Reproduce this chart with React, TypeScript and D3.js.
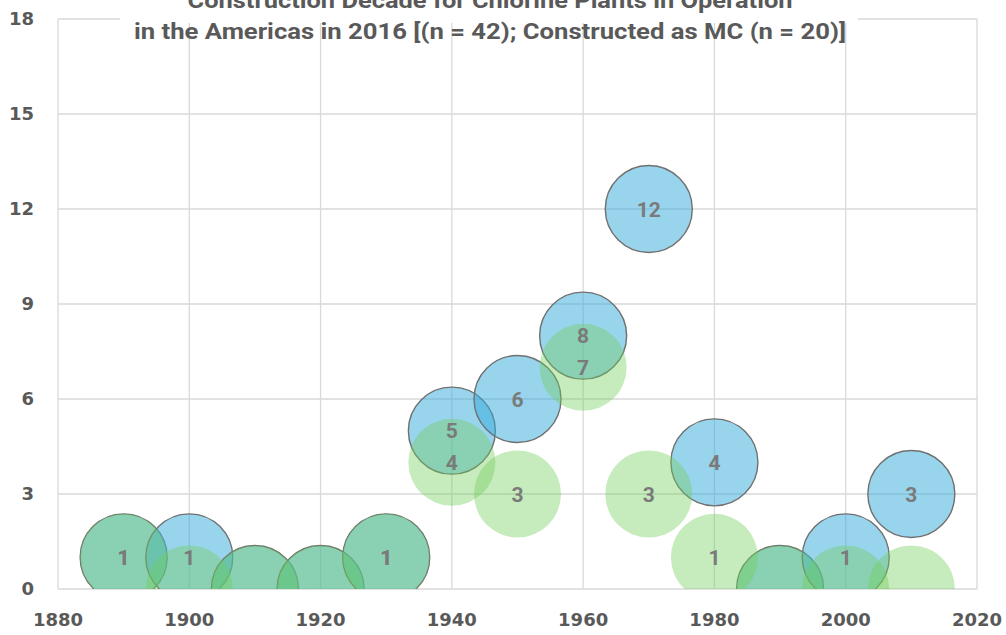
import React, { useEffect, useRef } from 'react';
import * as d3 from 'd3';

// construction decade (bubble centres)
const decades = [1890, 1900, 1910, 1920, 1930, 1940, 1950, 1960, 1970, 1980, 1990, 2000, 2010];
// all chlorine plants in operation (n = 42)
const allPlants = [1, 1, 0, 0, 1, 5, 6, 8, 12, 4, 0, 1, 3];
// constructed as mercury cell (n = 20)
const mcPlants = [1, 0, 0, 0, 1, 4, 3, 7, 3, 1, 0, 0, 0];

const xTicks = [1880, 1900, 1920, 1940, 1960, 1980, 2000, 2020];
const yTicks = [0, 3, 6, 9, 12, 15, 18];

const titleLines = [
  'Construction Decade for Chlorine Plants in Operation',
  'in the Americas in 2016 [(n = 42); Constructed as MC (n = 20)]',
];

const W = 1006;
const H = 635;

export default function App() {
  const svgRef = useRef<SVGSVGElement | null>(null);

  useEffect(() => {
    if (!svgRef.current) return;
    const svg = d3.select(svgRef.current);
    svg.selectAll('*').remove();

    const margin = { top: 19, right: 29, bottom: 46, left: 58 };
    const x = d3.scaleLinear().domain([1880, 2020]).range([margin.left, W - margin.right]);
    const y = d3.scaleLinear().domain([0, 18]).range([H - margin.bottom, margin.top]);
    const r = 43.5;
    const grey = '#595959';
    const tickFont = 'bold 18px "DejaVu Sans", Verdana, sans-serif';
    const labelFont = 'bold 21px Roboto, "Liberation Sans", Arial, sans-serif';

    svg.append('defs').append('clipPath').attr('id', 'plot-clip')
      .append('rect')
      .attr('x', x(1880)).attr('y', y(18))
      .attr('width', x(2020) - x(1880)).attr('height', y(0) - y(18));

    // grid
    const grid = svg.append('g');
    grid.selectAll('.gy').data(yTicks).enter().append('line')
      .attr('x1', x(1880)).attr('x2', x(2020))
      .attr('y1', d => y(d)).attr('y2', d => y(d))
      .attr('stroke', '#d9d9d9').attr('stroke-width', 1.3);
    grid.selectAll('.gx').data(xTicks).enter().append('line')
      .attr('x1', d => x(d)).attr('x2', d => x(d))
      .attr('y1', y(0)).attr('y2', y(18))
      .attr('stroke', '#d9d9d9').attr('stroke-width', 1.3);

    // axis labels
    svg.append('g').selectAll('text').data(yTicks).enter().append('text')
      .attr('x', 34).attr('y', d => y(d)).attr('dy', '0.36em')
      .attr('text-anchor', 'end')
      .style('font', tickFont).attr('fill', grey)
      .text(d => d);
    svg.append('g').selectAll('text').data(xTicks).enter().append('text')
      .attr('x', d => x(d)).attr('y', 620).attr('dy', '0.36em')
      .attr('text-anchor', 'middle')
      .style('font', tickFont).attr('fill', grey)
      .text(d => d);

    const plot = svg.append('g').attr('clip-path', 'url(#plot-clip)');
    const all = decades.map((d, i) => ({ decade: d, value: allPlants[i] }));
    const mc = decades.map((d, i) => ({ decade: d, value: mcPlants[i] }));

    plot.selectAll('.all').data(all).enter().append('circle')
      .attr('cx', d => x(d.decade)).attr('cy', d => y(d.value)).attr('r', r)
      .attr('fill', 'rgb(51,169,220)').attr('fill-opacity', 0.5)
      .attr('stroke', '#707070').attr('stroke-width', 1.4);
    plot.selectAll('.mc').data(mc).enter().append('circle')
      .attr('cx', d => x(d.decade)).attr('cy', d => y(d.value)).attr('r', r)
      .attr('fill', 'rgb(112,204,90)').attr('fill-opacity', 0.4);

    const labels = svg.append('g');
    [...all, ...mc].filter(d => d.value > 0).forEach(d => {
      labels.append('text')
        .attr('x', x(d.decade)).attr('y', y(d.value)).attr('dy', '0.36em')
        .attr('text-anchor', 'middle')
        .style('font', labelFont).attr('fill', '#7a7a7a')
        .text(d.value);
    });

    // title
    const tx = 490;
    const lens = [605, 712];
    svg.append('rect').attr('x', 120).attr('y', 15).attr('width', 738).attr('height', 8).attr('fill', '#fff');
    svg.append('g').selectAll('text').data(titleLines).enter().append('text')
      .attr('x', tx).attr('y', (d, i) => 8 + i * 31)
      .attr('text-anchor', 'middle')
      .attr('textLength', (d, i) => lens[i])
      .attr('lengthAdjust', 'spacingAndGlyphs')
      .style('font', 'bold 22px Roboto, "Liberation Sans", sans-serif')
      .attr('fill', grey)
      .text(d => d);
  }, []);

  return (
    <div style={{ position: 'absolute', left: 0, top: 0 }}>
      <svg ref={svgRef} width={W} height={H} style={{ display: 'block', background: '#fff' }} />
    </div>
  );
}
